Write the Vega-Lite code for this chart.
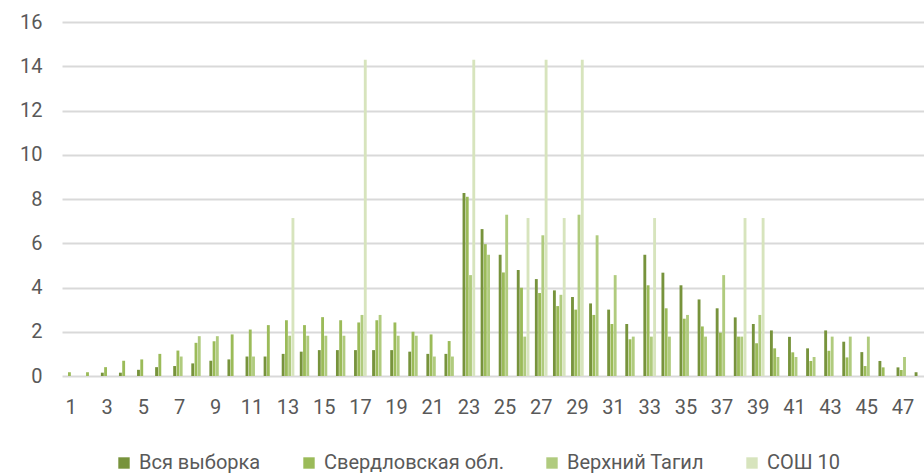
{
  "$schema": "https://vega.github.io/schema/vega-lite/v6.json",
  "width": 868,
  "height": 354,
  "padding": {"left": 19, "top": 12, "right": 0, "bottom": 0},
  "background": "white",
  "config": {
    "view": {"stroke": null},
    "font": "Roboto",
    "axis": {"labelFont": "Roboto", "labelColor": "#595959"},
    "legend": {"labelFont": "Roboto", "labelColor": "#595959"}
  },
  "datasets": {
    "rows": [
      {"cat": 3, "series": "Вся выборка", "value": 0.15},
      {"cat": 4, "series": "Вся выборка", "value": 0.15},
      {"cat": 5, "series": "Вся выборка", "value": 0.28},
      {"cat": 6, "series": "Вся выборка", "value": 0.4},
      {"cat": 7, "series": "Вся выборка", "value": 0.45},
      {"cat": 8, "series": "Вся выборка", "value": 0.57},
      {"cat": 9, "series": "Вся выборка", "value": 0.69},
      {"cat": 10, "series": "Вся выборка", "value": 0.75},
      {"cat": 11, "series": "Вся выборка", "value": 0.88},
      {"cat": 12, "series": "Вся выборка", "value": 0.88},
      {"cat": 13, "series": "Вся выборка", "value": 1.0},
      {"cat": 14, "series": "Вся выборка", "value": 1.1},
      {"cat": 15, "series": "Вся выборка", "value": 1.17},
      {"cat": 16, "series": "Вся выборка", "value": 1.17},
      {"cat": 17, "series": "Вся выборка", "value": 1.17},
      {"cat": 18, "series": "Вся выборка", "value": 1.17},
      {"cat": 19, "series": "Вся выборка", "value": 1.17},
      {"cat": 20, "series": "Вся выборка", "value": 1.1},
      {"cat": 21, "series": "Вся выборка", "value": 1.0},
      {"cat": 22, "series": "Вся выборка", "value": 1.0},
      {"cat": 23, "series": "Вся выборка", "value": 8.27},
      {"cat": 24, "series": "Вся выборка", "value": 6.64},
      {"cat": 25, "series": "Вся выборка", "value": 5.48},
      {"cat": 26, "series": "Вся выборка", "value": 4.79},
      {"cat": 27, "series": "Вся выборка", "value": 4.38},
      {"cat": 28, "series": "Вся выборка", "value": 3.87},
      {"cat": 29, "series": "Вся выборка", "value": 3.57},
      {"cat": 30, "series": "Вся выборка", "value": 3.28},
      {"cat": 31, "series": "Вся выборка", "value": 3.0},
      {"cat": 32, "series": "Вся выборка", "value": 2.35},
      {"cat": 33, "series": "Вся выборка", "value": 5.48},
      {"cat": 34, "series": "Вся выборка", "value": 4.67},
      {"cat": 35, "series": "Вся выборка", "value": 4.1},
      {"cat": 36, "series": "Вся выборка", "value": 3.46},
      {"cat": 37, "series": "Вся выборка", "value": 3.06},
      {"cat": 38, "series": "Вся выборка", "value": 2.65},
      {"cat": 39, "series": "Вся выборка", "value": 2.35},
      {"cat": 40, "series": "Вся выборка", "value": 2.06},
      {"cat": 41, "series": "Вся выборка", "value": 1.77},
      {"cat": 42, "series": "Вся выборка", "value": 1.25},
      {"cat": 43, "series": "Вся выборка", "value": 2.06},
      {"cat": 44, "series": "Вся выборка", "value": 1.55},
      {"cat": 45, "series": "Вся выборка", "value": 1.08},
      {"cat": 46, "series": "Вся выборка", "value": 0.68},
      {"cat": 47, "series": "Вся выборка", "value": 0.39},
      {"cat": 48, "series": "Вся выборка", "value": 0.17},

      {"cat": 1, "series": "Свердловская обл.", "value": 0.17},
      {"cat": 2, "series": "Свердловская обл.", "value": 0.17},
      {"cat": 3, "series": "Свердловская обл.", "value": 0.4},
      {"cat": 4, "series": "Свердловская обл.", "value": 0.69},
      {"cat": 5, "series": "Свердловская обл.", "value": 0.75},
      {"cat": 6, "series": "Свердловская обл.", "value": 1.0},
      {"cat": 7, "series": "Свердловская обл.", "value": 1.15},
      {"cat": 8, "series": "Свердловская обл.", "value": 1.5},
      {"cat": 9, "series": "Свердловская обл.", "value": 1.57},
      {"cat": 10, "series": "Свердловская обл.", "value": 1.88},
      {"cat": 11, "series": "Свердловская обл.", "value": 2.1},
      {"cat": 12, "series": "Свердловская обл.", "value": 2.3},
      {"cat": 13, "series": "Свердловская обл.", "value": 2.52},
      {"cat": 14, "series": "Свердловская обл.", "value": 2.3},
      {"cat": 15, "series": "Свердловская обл.", "value": 2.66},
      {"cat": 16, "series": "Свердловская обл.", "value": 2.52},
      {"cat": 17, "series": "Свердловская обл.", "value": 2.42},
      {"cat": 18, "series": "Свердловская обл.", "value": 2.52},
      {"cat": 19, "series": "Свердловская обл.", "value": 2.42},
      {"cat": 20, "series": "Свердловская обл.", "value": 2.0},
      {"cat": 21, "series": "Свердловская обл.", "value": 1.88},
      {"cat": 22, "series": "Свердловская обл.", "value": 1.58},
      {"cat": 23, "series": "Свердловская обл.", "value": 8.1},
      {"cat": 24, "series": "Свердловская обл.", "value": 5.96},
      {"cat": 25, "series": "Свердловская обл.", "value": 4.68},
      {"cat": 26, "series": "Свердловская обл.", "value": 3.99},
      {"cat": 27, "series": "Свердловская обл.", "value": 3.75},
      {"cat": 28, "series": "Свердловская обл.", "value": 3.16},
      {"cat": 29, "series": "Свердловская обл.", "value": 3.0},
      {"cat": 30, "series": "Свердловская обл.", "value": 2.76},
      {"cat": 31, "series": "Свердловская обл.", "value": 2.35},
      {"cat": 32, "series": "Свердловская обл.", "value": 1.66},
      {"cat": 33, "series": "Свердловская обл.", "value": 4.1},
      {"cat": 34, "series": "Свердловская обл.", "value": 3.06},
      {"cat": 35, "series": "Свердловская обл.", "value": 2.59},
      {"cat": 36, "series": "Свердловская обл.", "value": 2.24},
      {"cat": 37, "series": "Свердловская обл.", "value": 1.96},
      {"cat": 38, "series": "Свердловская обл.", "value": 1.78},
      {"cat": 39, "series": "Свердловская обл.", "value": 1.48},
      {"cat": 40, "series": "Свердловская обл.", "value": 1.25},
      {"cat": 41, "series": "Свердловская обл.", "value": 1.07},
      {"cat": 42, "series": "Свердловская обл.", "value": 0.68},
      {"cat": 43, "series": "Свердловская обл.", "value": 1.14},
      {"cat": 44, "series": "Свердловская обл.", "value": 0.84},
      {"cat": 45, "series": "Свердловская обл.", "value": 0.45},
      {"cat": 46, "series": "Свердловская обл.", "value": 0.39},
      {"cat": 47, "series": "Свердловская обл.", "value": 0.27},

      {"cat": 7, "series": "Верхний Тагил", "value": 0.88},
      {"cat": 8, "series": "Верхний Тагил", "value": 1.8},
      {"cat": 9, "series": "Верхний Тагил", "value": 1.8},
      {"cat": 11, "series": "Верхний Тагил", "value": 0.88},
      {"cat": 13, "series": "Верхний Тагил", "value": 1.82},
      {"cat": 14, "series": "Верхний Тагил", "value": 1.82},
      {"cat": 15, "series": "Верхний Тагил", "value": 1.82},
      {"cat": 16, "series": "Верхний Тагил", "value": 1.82},
      {"cat": 17, "series": "Верхний Тагил", "value": 2.76},
      {"cat": 18, "series": "Верхний Тагил", "value": 2.76},
      {"cat": 19, "series": "Верхний Тагил", "value": 1.82},
      {"cat": 20, "series": "Верхний Тагил", "value": 1.82},
      {"cat": 21, "series": "Верхний Тагил", "value": 0.88},
      {"cat": 22, "series": "Верхний Тагил", "value": 0.88},
      {"cat": 23, "series": "Верхний Тагил", "value": 4.56},
      {"cat": 24, "series": "Верхний Тагил", "value": 5.48},
      {"cat": 25, "series": "Верхний Тагил", "value": 7.29},
      {"cat": 26, "series": "Верхний Тагил", "value": 1.78},
      {"cat": 27, "series": "Верхний Тагил", "value": 6.36},
      {"cat": 28, "series": "Верхний Тагил", "value": 3.67},
      {"cat": 29, "series": "Верхний Тагил", "value": 7.29},
      {"cat": 30, "series": "Верхний Тагил", "value": 6.36},
      {"cat": 31, "series": "Верхний Тагил", "value": 4.56},
      {"cat": 32, "series": "Верхний Тагил", "value": 1.78},
      {"cat": 33, "series": "Верхний Тагил", "value": 1.78},
      {"cat": 34, "series": "Верхний Тагил", "value": 1.78},
      {"cat": 35, "series": "Верхний Тагил", "value": 2.76},
      {"cat": 36, "series": "Верхний Тагил", "value": 1.78},
      {"cat": 37, "series": "Верхний Тагил", "value": 4.56},
      {"cat": 38, "series": "Верхний Тагил", "value": 1.78},
      {"cat": 39, "series": "Верхний Тагил", "value": 2.76},
      {"cat": 40, "series": "Верхний Тагил", "value": 0.86},
      {"cat": 41, "series": "Верхний Тагил", "value": 0.86},
      {"cat": 42, "series": "Верхний Тагил", "value": 0.86},
      {"cat": 43, "series": "Верхний Тагил", "value": 1.78},
      {"cat": 44, "series": "Верхний Тагил", "value": 1.78},
      {"cat": 45, "series": "Верхний Тагил", "value": 1.78},
      {"cat": 47, "series": "Верхний Тагил", "value": 0.86},

      {"cat": 13, "series": "СОШ 10", "value": 7.14},
      {"cat": 17, "series": "СОШ 10", "value": 14.29},
      {"cat": 23, "series": "СОШ 10", "value": 14.29},
      {"cat": 26, "series": "СОШ 10", "value": 7.14},
      {"cat": 27, "series": "СОШ 10", "value": 14.29},
      {"cat": 28, "series": "СОШ 10", "value": 7.14},
      {"cat": 29, "series": "СОШ 10", "value": 14.29},
      {"cat": 33, "series": "СОШ 10", "value": 7.14},
      {"cat": 38, "series": "СОШ 10", "value": 7.14},
      {"cat": 39, "series": "СОШ 10", "value": 7.14}
    ]
  },
  "data": {"name": "rows"},
  "mark": {"type": "bar"},
  "encoding": {
    "x": {
      "field": "cat",
      "type": "ordinal",
      "sort": "ascending",
      "scale": {
        "domain": [1,2,3,4,5,6,7,8,9,10,11,12,13,14,15,16,17,18,19,20,21,22,23,24,25,26,27,28,29,30,31,32,33,34,35,36,37,38,39,40,41,42,43,44,45,46,47,48],
        "paddingInner": 0.3,
        "paddingOuter": 0.15
      },
      "axis": {
        "title": null,
        "values": [1,3,5,7,9,11,13,15,17,19,21,23,25,27,29,31,33,35,37,39,41,43,45,47],
        "labelAngle": 0,
        "labelFontSize": 20,
        "labelPadding": 21,
        "ticks": false,
        "domain": false,
        "grid": false
      }
    },
    "xOffset": {
      "field": "series",
      "type": "nominal",
      "scale": {
        "domain": ["Вся выборка", "Свердловская обл.", "Верхний Тагил", "СОШ 10"],
        "paddingInner": 0.12
      }
    },
    "y": {
      "field": "value",
      "type": "quantitative",
      "scale": {"domain": [0, 16], "nice": false},
      "axis": {
        "title": null,
        "values": [0,2,4,6,8,10,12,14,16],
        "labelFontSize": 20,
        "labelPadding": 20,
        "ticks": false,
        "domain": false,
        "gridColor": "#D9D9D9",
        "gridWidth": 2
      }
    },
    "color": {
      "field": "series",
      "type": "nominal",
      "scale": {
        "domain": ["Вся выборка", "Свердловская обл.", "Верхний Тагил", "СОШ 10"],
        "range": ["#77933C", "#9BBB59", "#B0CB7E", "#D7E4BD"]
      },
      "legend": {
        "title": null,
        "orient": "none",
        "direction": "horizontal",
        "legendX": 52,
        "legendY": 431,
        "symbolType": "square",
        "symbolSize": 130,
        "symbolStrokeWidth": 0,
        "labelFontSize": 20,
        "labelOffset": 5,
        "columnPadding": 38,
        "labelLimit": 300
      }
    }
  }
}
